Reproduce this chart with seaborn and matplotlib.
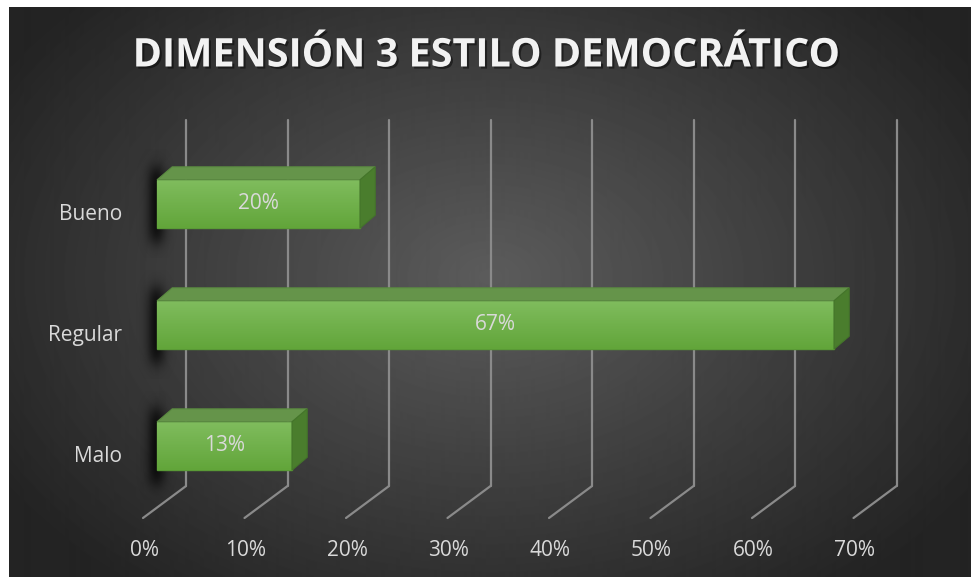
import numpy as np
import pandas as pd
import matplotlib.pyplot as plt
import seaborn as sns
from matplotlib.patches import Polygon
from matplotlib.colors import LinearSegmentedColormap
import matplotlib.patheffects as pe

# data
categorias = ['Bueno', 'Regular', 'Malo']
porcentajes = [20.0, 66.7, 13.3]
ticks = [0, 10, 20, 30, 40, 50, 60, 70]
tick_labels = ['0%', '10%', '20%', '30%', '40%', '50%', '60%', '70%']
titulo = 'DIMENSIÓN 3 ESTILO DEMOCRÁTICO'

df = pd.DataFrame({'categoria': categorias, 'valor': porcentajes})

sns.set_theme(style='white')
plt.rcParams['font.family'] = ['Open Sans', 'DejaVu Sans']

W, H = 971, 577
fig = plt.figure(figsize=(W / 100, H / 100), dpi=100)
fig.patch.set_facecolor('white')

# dark radial background
bg = fig.add_axes([9 / W, 0, (W - 9) / W, (H - 7) / H])
yy, xx = np.mgrid[0:570, 0:962]
r = np.sqrt(((xx - 480) / 620) ** 2 + ((yy - 270) / 430) ** 2)
img = np.clip(0.36 - 0.24 * r, 0.14, 0.36)
bg.imshow(img, cmap='gray', vmin=0, vmax=1, aspect='auto', interpolation='bilinear')
bg.axis('off')

# main axes (front plane of the 3D chart)
x0px, pxu = 157, 10.15
left_px, right_px, top_px, bot_px = 100, 960, 120, 518
ax = fig.add_axes([left_px / W, (H - bot_px) / H, (right_px - left_px) / W, (bot_px - top_px) / H])
ax.set_facecolor('none')
ytop, ybot = -0.694, 2.595
yfloor = ytop + (486 - top_px) / 121

sns.barplot(data=df, x='valor', y='categoria', orient='h', width=0.4,
            color='#70b04a', saturation=1, ax=ax, zorder=3)
ax.set_xlim((left_px - x0px) / pxu, (right_px - x0px) / pxu)
ax.set_ylim(ybot, ytop)
ax.set_xticks([])
ax.set_yticks([])
ax.set_xlabel('')
ax.set_ylabel('')
for s in ax.spines.values():
    s.set_visible(False)

# back wall + floor grid lines
gdx, fdx = 2.86, -1.38
for v in ticks:
    ax.plot([v + gdx, v + gdx], [ytop, yfloor], color='#8a8a8a', lw=1.6, zorder=1, clip_on=False)
    ax.plot([v + gdx, v + fdx], [yfloor, ybot], color='#8a8a8a', lw=1.6, zorder=1, clip_on=False)

# 3D faces for bars
bdx, bdy = 1.5, -0.107
grad = np.linspace(0, 1, 100).reshape(-1, 1)
green = LinearSegmentedColormap.from_list('g', ['#80bd5e', '#62a53a'])
for p, val in zip(ax.patches, porcentajes):
    x, y, w, h = p.get_x(), p.get_y(), p.get_width(), p.get_height()
    # soft shadow on the left
    sx = np.linspace(-2.5, 2.5, 60)
    sy = np.linspace(y - 0.25, y + h + 0.25, 60)
    gx = np.exp(-((sx + 0.1) / 0.9) ** 2)
    gy = 1 / (1 + np.exp(-(sy - (y - 0.1)) / 0.04)) * 1 / (1 + np.exp((sy - (y + h + 0.12)) / 0.04))
    sh = np.zeros((60, 60, 4))
    sh[..., 3] = 0.75 * np.outer(gy, gx)
    ax.imshow(sh, aspect='auto', extent=(sx[0], sx[-1], sy[-1], sy[0]), zorder=2, interpolation='bilinear')
    p.set_edgecolor('#5a9a36')
    p.set_linewidth(1)
    im = ax.imshow(grad, cmap=green, aspect='auto', extent=(x, x + w, y + h, y), zorder=3.5)
    im.set_clip_path(p)
    top = Polygon([(x, y), (x + w, y), (x + w + bdx, y + bdy), (x + bdx, y + bdy)],
                  closed=True, facecolor='#65944a', edgecolor='#5a8a40', lw=0.8, zorder=4)
    side = Polygon([(x + w, y), (x + w + bdx, y + bdy), (x + w + bdx, y + h + bdy), (x + w, y + h)],
                   closed=True, facecolor='#4a7d2d', edgecolor='#44752a', lw=0.8, zorder=4)
    ax.add_patch(top)
    ax.add_patch(side)
    ax.text(x + w / 2, y + h / 2, f'{val:.0f}%', ha='center', va='center',
            color='#d9d9d9', fontsize=15, zorder=5)

# category labels
for i, c in enumerate(categorias):
    ax.text(-3.4, i + 0.09, c, ha='right', va='center', color='#d9d9d9', fontsize=15, clip_on=False)

# tick labels
for v, t in zip(ticks, tick_labels):
    ax.text(v - 1.28, ybot + 32 / 121, t, ha='center', va='center', color='#d9d9d9',
            fontsize=15, clip_on=False)

fig.text(486 / W, 1 - 56 / H, titulo, ha='center', va='center', fontsize=28.5,
         fontweight='bold', color='#f2f2f2',
         path_effects=[pe.withSimplePatchShadow(offset=(1.5, -1.5), shadow_rgbFace='black', alpha=0.45)])

fig.savefig('out.png', dpi=100)
